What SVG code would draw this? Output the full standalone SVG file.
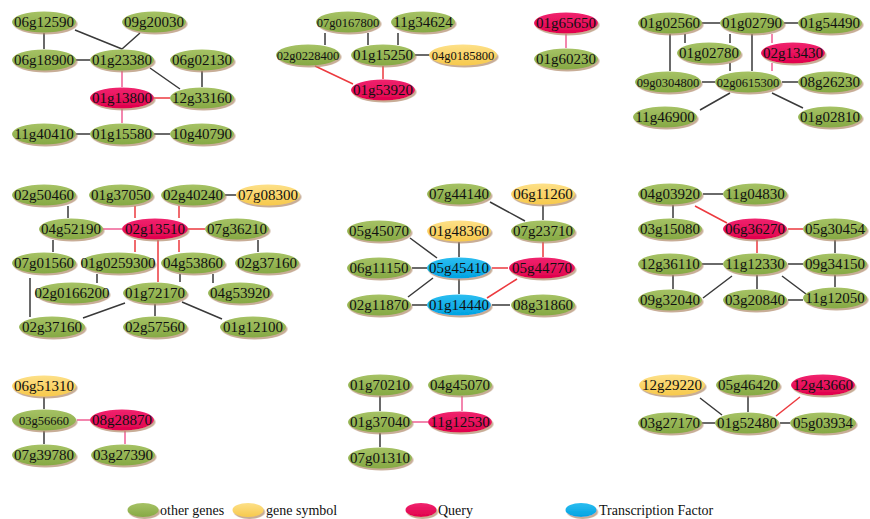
<svg xmlns="http://www.w3.org/2000/svg" width="870" height="519" viewBox="0 0 870 519">
<style>
.e{stroke:#3a3a3a;stroke-width:1.5;fill:none}
.p{stroke:#ef5f94;stroke-width:1.5;fill:none}
.r{stroke:#ec3a3f;stroke-width:1.5;fill:none}
.g{fill:url(#gg)}
.y{fill:url(#gy)}
.q{fill:url(#gq)}
.t{fill:url(#gt)}
ellipse{filter:url(#sh)}
text{font-family:"Liberation Serif","Times New Roman",serif;font-size:15px;fill:#111;text-anchor:middle}
text.s{font-size:12.5px}
text.l{text-anchor:start;font-size:14px}
</style>
<defs>
<linearGradient id="gg" x1="0" y1="0" x2="0" y2="1"><stop offset="0" stop-color="#a6c265"/><stop offset="1" stop-color="#86a944"/></linearGradient>
<linearGradient id="gy" x1="0" y1="0" x2="0" y2="1"><stop offset="0" stop-color="#fde088"/><stop offset="1" stop-color="#f7c94c"/></linearGradient>
<linearGradient id="gq" x1="0" y1="0" x2="0" y2="1"><stop offset="0" stop-color="#f0246e"/><stop offset="1" stop-color="#e0004c"/></linearGradient>
<linearGradient id="gt" x1="0" y1="0" x2="0" y2="1"><stop offset="0" stop-color="#2bbdf0"/><stop offset="1" stop-color="#00a3e2"/></linearGradient>
<filter id="sh" x="-20%" y="-30%" width="140%" height="170%"><feDropShadow dx="1.5" dy="2" stdDeviation="0.7" flood-color="#b08a6a" flood-opacity="0.7"/></filter>
</defs>
<rect width="870" height="519" fill="#fff"/>
<g id="connectors">
<path class="e" d="M44,33V49M75,30L122,49M140,33L122,49M76,60H90M150,68L180,89M202,71V87M76,134H90M154,134H170"/>
<path class="p" d="M122,71V87M122,109V123"/>
<path class="r" d="M154,98H170"/>
<path class="e" d="M325,33V45M368,33V45M398,33V45M415,55H430"/>
<path class="r" d="M315,66L353,84M383,66V79"/>
<path class="p" d="M566,34V48"/>
<path class="e" d="M702,23H720M784,23H798M670,34V71M685,34V43M730,34V43M730,63V71M752,34V71M702,82H715M782,82H798M730,93L700,110M772,93L803,108"/>
<path class="p" d="M772,34V43M772,63V71"/>
<path class="e" d="M68,206V218M225,195H236M53,240V252M258,240V252M97,274V283M180,274V282M213,274V283M30,278V317M125,303L83,318M155,304V316M182,302L222,319"/>
<path class="r" d="M135,206V218M179,206V218M179,240V252M188,229H205M135,240V252M158,240V282"/>
<path class="p" d="M103,229H122"/>
<path class="e" d="M490,202L525,221M543,205V220M410,238L437,258M459,242V257M412,268H427M459,279V294M433,278L408,297M412,305H427M492,305H510"/>
<path class="r" d="M543,242V257M492,268H508M487,298L517,279"/>
<path class="e" d="M703,194H723M673,205V218M835,240V253M702,264H723M788,264H803M673,275V289M732,276L703,298M757,275V289M782,276L806,294M788,300H803M835,275V287"/>
<path class="r" d="M695,206L727,223M788,229H803M757,240V253"/>
<path class="e" d="M44,397V409M44,431V444"/>
<path class="p" d="M77,420H90M125,431V444"/>
<path class="e" d="M380,396V411M380,433V447"/>
<path class="p" d="M412,422H428M462,396V411"/>
<path class="e" d="M700,398L722,415M748,396V412M702,423H715M780,423H790"/>
<path class="r" d="M800,397L776,416"/>
</g>
<g id="n-06g12590"><ellipse class="g" cx="44" cy="22" rx="32" ry="10.5"/><text x="44" y="27">06g12590</text></g>
<g id="n-09g20030"><ellipse class="g" cx="154" cy="22" rx="32" ry="10.5"/><text x="154" y="27">09g20030</text></g>
<g id="n-06g18900"><ellipse class="g" cx="44" cy="60" rx="32" ry="10.5"/><text x="44" y="65">06g18900</text></g>
<g id="n-01g23380"><ellipse class="g" cx="122" cy="60" rx="32" ry="10.5"/><text x="122" y="65">01g23380</text></g>
<g id="n-06g02130"><ellipse class="g" cx="202" cy="60" rx="32" ry="10.5"/><text x="202" y="65">06g02130</text></g>
<g id="n-01g13800"><ellipse class="q" cx="122" cy="98" rx="32" ry="10.5"/><text x="122" y="103">01g13800</text></g>
<g id="n-12g33160"><ellipse class="g" cx="202" cy="98" rx="32" ry="10.5"/><text x="202" y="103">12g33160</text></g>
<g id="n-11g40410"><ellipse class="g" cx="44" cy="134" rx="32" ry="10.5"/><text x="44" y="139">11g40410</text></g>
<g id="n-01g15580"><ellipse class="g" cx="122" cy="134" rx="32" ry="10.5"/><text x="122" y="139">01g15580</text></g>
<g id="n-10g40790"><ellipse class="g" cx="202" cy="134" rx="32" ry="10.5"/><text x="202" y="139">10g40790</text></g>

<g id="n-07g0167800"><ellipse class="g" cx="348" cy="22" rx="32" ry="10.5"/><text class="s" x="348" y="26.5">07g0167800</text></g>
<g id="n-11g34624"><ellipse class="g" cx="423" cy="22" rx="32" ry="10.5"/><text x="423" y="27">11g34624</text></g>
<g id="n-02g0228400"><ellipse class="g" cx="308" cy="55" rx="32" ry="10.5"/><text class="s" x="308" y="59.5">02g0228400</text></g>
<g id="n-01g15250"><ellipse class="g" cx="383" cy="55" rx="32" ry="10.5"/><text x="383" y="60">01g15250</text></g>
<g id="n-04g0185800"><ellipse class="y" cx="463" cy="55" rx="34" ry="10.5"/><text class="s" x="463" y="59.5">04g0185800</text></g>
<g id="n-01g53920"><ellipse class="q" cx="383" cy="90" rx="32" ry="10.5"/><text x="383" y="95">01g53920</text></g>

<g id="n-01g65650"><ellipse class="q" cx="566" cy="23" rx="32" ry="10.5"/><text x="566" y="28">01g65650</text></g>
<g id="n-01g60230"><ellipse class="g" cx="566" cy="59" rx="32" ry="10.5"/><text x="566" y="64">01g60230</text></g>

<g id="n-01g02560"><ellipse class="g" cx="670" cy="23" rx="32" ry="10.5"/><text x="670" y="28">01g02560</text></g>
<g id="n-01g02790"><ellipse class="g" cx="752" cy="23" rx="32" ry="10.5"/><text x="752" y="28">01g02790</text></g>
<g id="n-01g54490"><ellipse class="g" cx="830" cy="23" rx="32" ry="10.5"/><text x="830" y="28">01g54490</text></g>
<g id="n-01g02780"><ellipse class="g" cx="709" cy="53" rx="32" ry="10.5"/><text x="709" y="58">01g02780</text></g>
<g id="n-02g13430"><ellipse class="q" cx="793" cy="53" rx="32" ry="10.5"/><text x="793" y="58">02g13430</text></g>
<g id="n-09g0304800"><ellipse class="g" cx="668" cy="82" rx="33" ry="10.5"/><text class="s" x="668" y="86.5">09g0304800</text></g>
<g id="n-02g0615300"><ellipse class="g" cx="748" cy="82" rx="33" ry="10.5"/><text class="s" x="748" y="86.5">02g0615300</text></g>
<g id="n-08g26230"><ellipse class="g" cx="830" cy="82" rx="32" ry="10.5"/><text x="830" y="87">08g26230</text></g>
<g id="n-11g46900"><ellipse class="g" cx="665" cy="117" rx="32" ry="10.5"/><text x="665" y="122">11g46900</text></g>
<g id="n-01g02810"><ellipse class="g" cx="830" cy="117" rx="32" ry="10.5"/><text x="830" y="122">01g02810</text></g>

<g id="n-02g50460"><ellipse class="g" cx="44" cy="195" rx="32" ry="10.5"/><text x="44" y="200">02g50460</text></g>
<g id="n-01g37050"><ellipse class="g" cx="121" cy="195" rx="32" ry="10.5"/><text x="121" y="200">01g37050</text></g>
<g id="n-02g40240"><ellipse class="g" cx="193" cy="195" rx="32" ry="10.5"/><text x="193" y="200">02g40240</text></g>
<g id="n-07g08300"><ellipse class="y" cx="268" cy="195" rx="32" ry="10.5"/><text x="268" y="200">07g08300</text></g>
<g id="n-04g52190"><ellipse class="g" cx="71" cy="229" rx="32" ry="10.5"/><text x="71" y="234">04g52190</text></g>
<g id="n-02g13510"><ellipse class="q" cx="155" cy="229" rx="33" ry="10.5"/><text x="155" y="234">02g13510</text></g>
<g id="n-07g36210"><ellipse class="g" cx="237" cy="229" rx="32" ry="10.5"/><text x="237" y="234">07g36210</text></g>
<g id="n-07g01560"><ellipse class="g" cx="44" cy="263" rx="32" ry="10.5"/><text x="44" y="268">07g01560</text></g>
<g id="n-01g0259300"><ellipse class="g" cx="118" cy="263" rx="37" ry="10.5"/><text x="118" y="268">01g0259300</text></g>
<g id="n-04g53860"><ellipse class="g" cx="193" cy="263" rx="32" ry="10.5"/><text x="193" y="268">04g53860</text></g>
<g id="n-02g37160a"><ellipse class="g" cx="267" cy="263" rx="32" ry="10.5"/><text x="267" y="268">02g37160</text></g>
<g id="n-02g0166200"><ellipse class="g" cx="72" cy="293" rx="37" ry="10.5"/><text x="72" y="298">02g0166200</text></g>
<g id="n-01g72170"><ellipse class="g" cx="155" cy="293" rx="32" ry="10.5"/><text x="155" y="298">01g72170</text></g>
<g id="n-04g53920"><ellipse class="g" cx="240" cy="293" rx="32" ry="10.5"/><text x="240" y="298">04g53920</text></g>
<g id="n-02g37160b"><ellipse class="g" cx="52" cy="327" rx="33" ry="10.5"/><text x="52" y="332">02g37160</text></g>
<g id="n-02g57560"><ellipse class="g" cx="155" cy="327" rx="32" ry="10.5"/><text x="155" y="332">02g57560</text></g>
<g id="n-01g12100"><ellipse class="g" cx="253" cy="327" rx="33" ry="10.5"/><text x="253" y="332">01g12100</text></g>

<g id="n-07g44140"><ellipse class="g" cx="459" cy="194" rx="32" ry="10.5"/><text x="459" y="199">07g44140</text></g>
<g id="n-06g11260"><ellipse class="y" cx="543" cy="194" rx="32" ry="10.5"/><text x="543" y="199">06g11260</text></g>
<g id="n-05g45070"><ellipse class="g" cx="379" cy="231" rx="32" ry="10.5"/><text x="379" y="236">05g45070</text></g>
<g id="n-01g48360"><ellipse class="y" cx="459" cy="231" rx="32" ry="10.5"/><text x="459" y="236">01g48360</text></g>
<g id="n-07g23710"><ellipse class="g" cx="543" cy="231" rx="32" ry="10.5"/><text x="543" y="236">07g23710</text></g>
<g id="n-06g11150"><ellipse class="g" cx="379" cy="268" rx="32" ry="10.5"/><text x="379" y="273">06g11150</text></g>
<g id="n-05g45410"><ellipse class="t" cx="459" cy="268" rx="32" ry="10.5"/><text x="459" y="273">05g45410</text></g>
<g id="n-05g44770"><ellipse class="q" cx="542" cy="268" rx="33" ry="10.5"/><text x="542" y="273">05g44770</text></g>
<g id="n-02g11870"><ellipse class="g" cx="379" cy="305" rx="32" ry="10.5"/><text x="379" y="310">02g11870</text></g>
<g id="n-01g14440"><ellipse class="t" cx="459" cy="305" rx="32" ry="10.5"/><text x="459" y="310">01g14440</text></g>
<g id="n-08g31860"><ellipse class="g" cx="543" cy="305" rx="32" ry="10.5"/><text x="543" y="310">08g31860</text></g>

<g id="n-04g03920"><ellipse class="g" cx="670" cy="194" rx="32" ry="10.5"/><text x="670" y="199">04g03920</text></g>
<g id="n-11g04830"><ellipse class="g" cx="755" cy="194" rx="32" ry="10.5"/><text x="755" y="199">11g04830</text></g>
<g id="n-03g15080"><ellipse class="g" cx="670" cy="229" rx="32" ry="10.5"/><text x="670" y="234">03g15080</text></g>
<g id="n-06g36270"><ellipse class="q" cx="755" cy="229" rx="32" ry="10.5"/><text x="755" y="234">06g36270</text></g>
<g id="n-05g30454"><ellipse class="g" cx="835" cy="229" rx="32" ry="10.5"/><text x="835" y="234">05g30454</text></g>
<g id="n-12g36110"><ellipse class="g" cx="670" cy="264" rx="32" ry="10.5"/><text x="670" y="269">12g36110</text></g>
<g id="n-11g12330"><ellipse class="g" cx="755" cy="264" rx="32" ry="10.5"/><text x="755" y="269">11g12330</text></g>
<g id="n-09g34150"><ellipse class="g" cx="835" cy="264" rx="32" ry="10.5"/><text x="835" y="269">09g34150</text></g>
<g id="n-09g32040"><ellipse class="g" cx="670" cy="300" rx="32" ry="10.5"/><text x="670" y="305">09g32040</text></g>
<g id="n-03g20840"><ellipse class="g" cx="755" cy="300" rx="32" ry="10.5"/><text x="755" y="305">03g20840</text></g>
<g id="n-11g12050"><ellipse class="g" cx="835" cy="298" rx="32" ry="10.5"/><text x="835" y="303">11g12050</text></g>

<g id="n-06g51310"><ellipse class="y" cx="44" cy="386" rx="32" ry="10.5"/><text x="44" y="391">06g51310</text></g>
<g id="n-03g56660"><ellipse class="g" cx="44" cy="420" rx="32" ry="10.5"/><text class="s" x="44" y="424.5">03g56660</text></g>
<g id="n-08g28870"><ellipse class="q" cx="122" cy="420" rx="32" ry="10.5"/><text x="122" y="425">08g28870</text></g>
<g id="n-07g39780"><ellipse class="g" cx="44" cy="455" rx="32" ry="10.5"/><text x="44" y="460">07g39780</text></g>
<g id="n-03g27390"><ellipse class="g" cx="123" cy="455" rx="32" ry="10.5"/><text x="123" y="460">03g27390</text></g>

<g id="n-01g70210"><ellipse class="g" cx="380" cy="385" rx="32" ry="10.5"/><text x="380" y="390">01g70210</text></g>
<g id="n-04g45070"><ellipse class="g" cx="460" cy="385" rx="32" ry="10.5"/><text x="460" y="390">04g45070</text></g>
<g id="n-01g37040"><ellipse class="g" cx="380" cy="422" rx="32" ry="10.5"/><text x="380" y="427">01g37040</text></g>
<g id="n-11g12530"><ellipse class="q" cx="460" cy="422" rx="32" ry="10.5"/><text x="460" y="427">11g12530</text></g>
<g id="n-07g01310"><ellipse class="g" cx="380" cy="458" rx="32" ry="10.5"/><text x="380" y="463">07g01310</text></g>

<g id="n-12g29220"><ellipse class="y" cx="672" cy="385" rx="33" ry="10.5"/><text x="672" y="390">12g29220</text></g>
<g id="n-05g46420"><ellipse class="g" cx="748" cy="385" rx="32" ry="10.5"/><text x="748" y="390">05g46420</text></g>
<g id="n-12g43660"><ellipse class="q" cx="823" cy="385" rx="32" ry="10.5"/><text x="823" y="390">12g43660</text></g>
<g id="n-03g27170"><ellipse class="g" cx="670" cy="423" rx="32" ry="10.5"/><text x="670" y="428">03g27170</text></g>
<g id="n-01g52480"><ellipse class="g" cx="747" cy="423" rx="32" ry="10.5"/><text x="747" y="428">01g52480</text></g>
<g id="n-05g03934"><ellipse class="g" cx="823" cy="423" rx="33" ry="10.5"/><text x="823" y="428">05g03934</text></g>

<g id="legend">
<ellipse class="g" cx="143" cy="510" rx="15.5" ry="7"/><text class="l" x="160" y="515">other genes</text>
<ellipse class="y" cx="248" cy="510" rx="15.5" ry="7"/><text class="l" x="266" y="515">gene symbol</text>
<ellipse class="q" cx="421" cy="510" rx="15.5" ry="7"/><text class="l" x="438" y="515">Query</text>
<ellipse class="t" cx="581" cy="510" rx="15.5" ry="7"/><text class="l" x="599" y="515">Transcription Factor</text>
</g>
</svg>
